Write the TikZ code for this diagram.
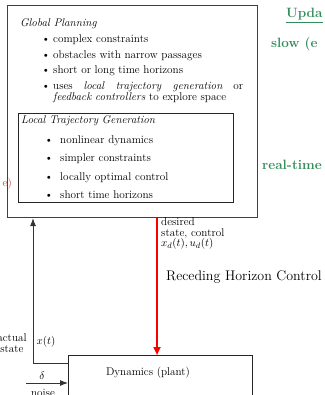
\documentclass[tikz,border=0pt]{standalone}
\usetikzlibrary{arrows.meta}
\definecolor{rtgreen}{RGB}{52,140,90}
\definecolor{offred}{RGB}{185,70,70}
\begin{document}
\begin{tikzpicture}[x=1pt,y=-1pt,
  boxline/.style={draw=black!75, line width=1.1pt},
  inbox/.style={draw=black!85, line width=0.9pt},
  txt/.style={inner sep=0pt, font=\fontsize{11.2}{10.5}\selectfont},
  itm/.style={txt, anchor=base west},
  big/.style={inner sep=0pt, font=\fontsize{14}{14}\selectfont},
  grn/.style={inner sep=0pt, text=rtgreen, font=\fontsize{13.5}{13.5}\selectfont\bfseries, anchor=base west},
  fb/.style={draw=black!80, line width=0.9pt, -{Latex[length=8pt,width=6pt]}},
  ctl/.style={draw=red, line width=2pt, -{Triangle[length=8pt,width=7pt]}}]
\useasboundingbox (0,0) rectangle (324,395);
\clip (0,0) rectangle (324,395);
% boxes
\node[boxline, minimum width=250pt, minimum height=212pt, anchor=north west, inner sep=0pt] (outer) at (7,5) {};
\node[inbox, minimum width=215pt, minimum height=89pt, anchor=north west, inner sep=0pt] (inner) at (18,113) {};
\node[draw=black!85, line width=0.9pt, minimum width=184pt, minimum height=40pt, anchor=north west, inner sep=0pt] (dyn) at (68,355) {};
% global planning
\node[itm, font=\fontsize{11.2}{10.5}\selectfont\itshape] (gp) at (20,27) {Global Planning};
\node[itm] (g1) at (53,43) {\llap{\textbullet\hspace{3pt}}complex constraints};
\node[itm] (g2) at (53,58.5) {\llap{\textbullet\hspace{3pt}}obstacles with narrow passages};
\node[itm] (g3) at (53,74) {\llap{\textbullet\hspace{3pt}}short or long time horizons};
\node[itm] (g4) at (53,90) {\llap{\textbullet\hspace{3pt}}\makebox[190pt][s]{uses \textit{local trajectory generation} or}};
\node[itm] (g5) at (53,101) {\textit{feedback controllers} to explore space};
% local trajectory generation
\node[itm, font=\fontsize{11.2}{10.5}\selectfont\itshape] (lt) at (21,123.5) {Local Trajectory Generation};
\node[itm] (l1) at (60,143.5) {\llap{\textbullet\hspace{7pt}}nonlinear dynamics};
\node[itm] (l2) at (60,161.5) {\llap{\textbullet\hspace{7pt}}simpler constraints};
\node[itm] (l3) at (60,180.5) {\llap{\textbullet\hspace{7pt}}locally optimal control};
\node[itm] (l4) at (60,198.5) {\llap{\textbullet\hspace{7pt}}short time horizons};
% right column
\node[grn] (upd) at (286,18) {\underline{Upda}};
\node[grn] (slow) at (271,48) {slow (e};
\node[grn] (rt) at (262,169) {real-time};
\node[txt, text=offred, anchor=base east] (off) at (12,186) {e)};
% dynamics
\node[txt] (dynl) at (148,373) {Dynamics (plant)};
% connectors
\draw[ctl] (157,0 |- outer.south) -- (157,0 |- dyn.north);
\draw[fb] (dyn.west |- 0,363) -| (33,0 |- outer.south);
\coordinate (nz) at (26,383);
\draw[fb] (nz) -- (dyn.west |- nz);
% labels
\node[txt, align=left, anchor=north west] (des) at (161,218) {desired\\state, control\\$x_d(t), u_d(t)$};
\node[big, anchor=base west] (rhc) at (166,280) {Receding Horizon Control};
\node[txt, align=center, anchor=north] (act) at (12,334) {actual\\state};
\node[txt] (xt) at (46,342) {$x(t)$};
\node[txt] (del) at (42,376) {$\delta$};
\node[txt, anchor=north] (noi) at (43,389) {noise};
\end{tikzpicture}
\end{document}
